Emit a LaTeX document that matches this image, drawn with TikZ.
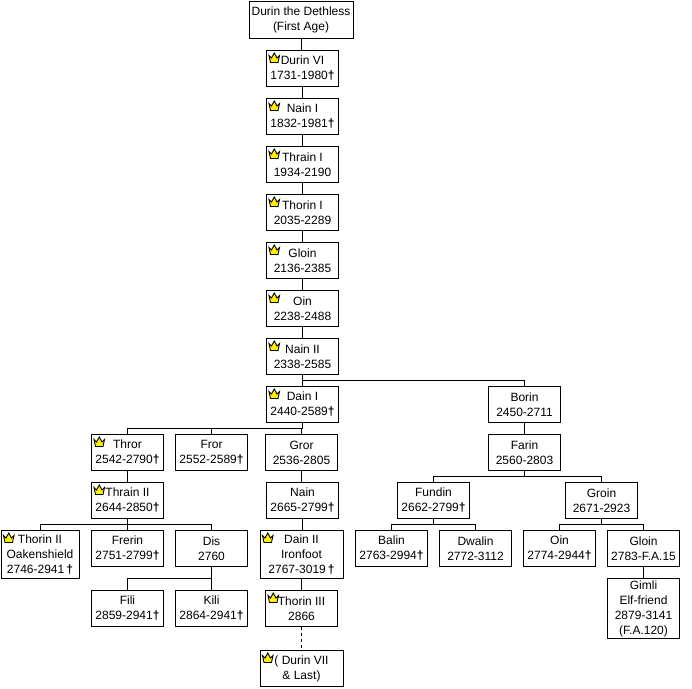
\documentclass[tikz,border=0pt]{standalone}
\usepackage{fontspec}
\setmainfont{Liberation Sans}
\tikzset{
	person/.style={draw,line width=1pt,fill=white,inner sep=0pt,outer sep=0pt,
		minimum width=72pt,minimum height=36pt,align=center,
		font=\fontsize{12}{15}\selectfont},
	crown/.style={draw=black,fill=yellow,line width=0.9pt,line join=miter},
}
\newcommand{\dd}{{\bfseries †}}
\begin{document}
\begin{tikzpicture}[x=1pt,y=-1pt,line width=1pt]
\useasboundingbox (0,0) rectangle (692,688);
% main line
\node[person,minimum width=104pt,minimum height=37pt] (dethless) at (301,19.5) {Durin the Dethless\\(First Age)};
\node[person] (durinvi) at (302.5,68.5) {Durin VI\\1731-1980\dd};
\node[person] (naini) at (302.5,116.5) {Nain I\\1832-1981\dd};
\node[person] (thraini) at (302.5,164.5) {Thrain I\\1934-2190};
\node[person] (thorini) at (302.5,212.5) {Thorin I\\2035-2289};
\node[person] (gloini) at (302.5,260.5) {Gloin\\2136-2385};
\node[person] (oini) at (302.5,308.5) {Oin\\2238-2488};
\node[person] (nainii) at (302.5,356.5) {Nain II\\2338-2585};
\node[person] (daini) at (302.5,404.5) {Dain I\\2440-2589\dd};
% left side
\node[person] (thror) at (127.5,452.5) {Thror\\2542-2790\dd};
\node[person] (fror) at (211.5,452.5) {Fror\\2552-2589\dd};
\node[person] (gror) at (301.5,452.5) {Gror\\2536-2805};
\node[person] (thrainii) at (127.5,500.5) {Thrain II\\2644-2850\dd};
\node[person] (nain) at (302.5,500.5) {Nain\\2665-2799\dd};
\node[person,minimum width=78pt,minimum height=48pt] (thorinii) at (40,554.5) {Thorin II\\Oakenshield\\2746-2941\,\dd};
\node[person] (frerin) at (127.5,548.5) {Frerin\\2751-2799\dd};
\node[person] (dis) at (211.5,548.5) {Dis\\2760};
\node[person] (fili) at (127.5,608.5) {Fili\\2859-2941\dd};
\node[person] (kili) at (211.5,608.5) {Kili\\2864-2941\dd};
\node[person,minimum width=83pt,minimum height=48pt] (dainii) at (301.5,554.5) {Dain II\\Ironfoot\\2767-3019\,\dd};
\node[person] (thoriniii) at (301.5,608.5) {Thorin III\\2866};
\node[person,minimum width=83pt] (durinvii) at (301.5,668.5) {( Durin VII\\\& Last)};
% right side
\node[person] (borin) at (524.5,404.5) {Borin\\2450-2711};
\node[person] (farin) at (524.5,452.5) {Farin\\2560-2803};
\node[person] (fundin) at (433.5,500.5) {Fundin\\2662-2799\dd};
\node[person] (groin) at (601.5,500.5) {Groin\\2671-2923};
\node[person] (balin) at (391.5,548.5) {Balin\\2763-2994\dd};
\node[person] (dwalin) at (475.5,548.5) {Dwalin\\2772-3112};
\node[person] (oinii) at (559.5,548.5) {Oin\\2774-2944\dd};
\node[person] (gloinii) at (643.5,548.5) {Gloin\\2783-F.A.15};
\node[person,minimum height=60pt] (gimli) at (643.5,608.5) {Gimli\\Elf-friend\\2879-3141\\(F.A.120)};
% connectors
\foreach \a/\b in {dethless/durinvi,durinvi/naini,naini/thraini,thraini/thorini,
	thorini/gloini,gloini/oini,oini/nainii,thror/thrainii,gror/nain,nain/dainii,
	dainii/thoriniii,borin/farin,gloinii/gimli}
	\draw (\a.south) -- (\a.south |- \b.north);
\foreach \a/\b in {nainii/daini,nainii/borin,daini/thror,daini/fror,daini/gror,
	thrainii/thorinii,thrainii/frerin,thrainii/dis,farin/fundin,farin/groin,
	fundin/balin,fundin/dwalin,groin/oinii,groin/gloinii}
	\draw (\a.south) -- ++(0,6) -| (\b.north);
\foreach \b in {fili,kili}
	\draw (dis.south) -- ++(0,12) -| (\b.north);
\draw[dashed] (thoriniii.south) -- (durinvii.north);
% crowns
\foreach \n in {durinvi,naini,thraini,thorini,gloini,oini,nainii,daini,thror,thrainii,
	thorinii,dainii,thoriniii,durinvii}
	\draw[crown,shift={(\n.north west)}] (2.5,5) -- (5,7.5) -- (7.75,2.5) -- (10.5,7.5)
		-- (13,5) -- (11.5,12) -- (4,12) -- cycle;
\end{tikzpicture}
\end{document}
